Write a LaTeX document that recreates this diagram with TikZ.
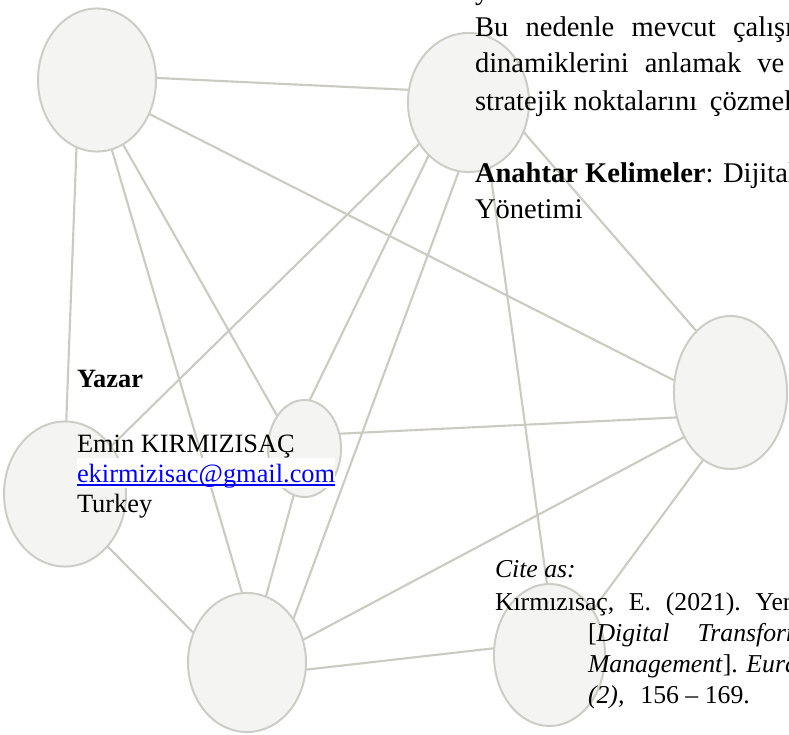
\documentclass[tikz,border=0pt]{standalone}
\usepackage{fontspec}
\setmainfont{Liberation Serif}
\usetikzlibrary{shapes.geometric}
\usetikzlibrary{backgrounds}
\definecolor{bubblefill}{RGB}{244,244,242}
\definecolor{bubbleline}{RGB}{205,205,199}
\definecolor{edgegrey}{RGB}{203,203,196}
\definecolor{linkblue}{RGB}{0,0,255}
\newcommand{\parafont}{\fontsize{21.4}{25}\selectfont}
\newcommand{\authfont}{\fontsize{19.8}{23}\selectfont}
\newcommand{\citefont}{\fontsize{19.3}{22}\selectfont}
\newsavebox{\mailbox}
\newcommand{\mailline}[1]{\sbox{\mailbox}{#1}\rlap{\rule[-2.8pt]{\wd\mailbox}{1.3pt}}\usebox{\mailbox}}

\begin{document}
\begin{tikzpicture}[x=0.75pt,y=0.75pt,yscale=-1,xscale=1,
  bubble/.style={ellipse, draw=bubbleline, fill=bubblefill, line width=1.5pt, inner sep=0pt, outer sep=0pt},
  link/.style={draw=edgegrey, line width=1.6pt},
  txt/.style={anchor=base west, inner sep=0pt, outer sep=0pt}]
\useasboundingbox (0,0) rectangle (789,735);

%Shape: Ellipse
\node [bubble, minimum width=88.5pt, minimum height=107.3pt] (A) at (97,80) {};
%Shape: Ellipse
\node [bubble, minimum width=90.8pt, minimum height=104.3pt] (B) at (468.5,102.5) {};
%Shape: Ellipse
\node [bubble, minimum width=84.8pt, minimum height=114.8pt] (C) at (730.5,392.5) {};
%Shape: Ellipse
\node [bubble, minimum width=91.5pt, minimum height=108.8pt] (D) at (65,494) {};
%Shape: Ellipse
\node [bubble, minimum width=54.8pt, minimum height=72.8pt] (E) at (304.5,448.5) {};
%Shape: Ellipse
\node [bubble, minimum width=88.5pt, minimum height=104.3pt] (F) at (247,662.5) {};
%Shape: Ellipse
\node [bubble, minimum width=83.3pt, minimum height=106.5pt] (G) at (549.5,655) {};

\begin{pgfonlayer}{background}
%Straight Lines
\draw [link] (A.2) -- (B.168) ;
%Straight Lines
\draw [link] (A.253) -- (D.89) ;
%Straight Lines
\draw [link] (A.282) -- (F.94) ;
%Straight Lines
\draw [link] (A.292) -- (E.130) ;
%Straight Lines
\draw [link] (A.327) -- (C.168) ;
%Straight Lines
\draw [link] (B.220) -- (D.46) ;
%Straight Lines
\draw [link] (B.233) -- (E.84) ;
%Straight Lines
\draw [link] (B.262) -- (F.43) ;
%Straight Lines
\draw [link] (B.288) -- (G.92) ;
%Straight Lines
\draw [link] (B.332) -- (C.119) ;
%Straight Lines
\draw [link] (D.309) -- (F.151) ;
%Straight Lines
\draw [link] (E.257) -- (F.74) ;
%Straight Lines
\draw [link] (E.23) -- (C.205) ;
%Straight Lines
\draw [link] (F.22) -- (C.224) ;
%Straight Lines
\draw [link] (F.353) -- (G.173) ;
%Straight Lines
\draw [link] (G.46) -- (C.248) ;
\end{pgfonlayer}

% Text Node
\node [txt, font=\parafont] (para0) at (475,0) {y};
% Text Node
\node [txt, font=\parafont] (para1) at (475,37) {Bu\hspace{13pt}nedenle\hspace{13pt}mevcut\hspace{13pt}çalışm};
% Text Node
\node [txt, font=\parafont] (para2) at (475,73) {dinamiklerini\hspace{12pt}anlamak\hspace{12pt}ve};
% Text Node
\node [txt, font=\parafont] (para3) at (475,110) {stratejik\hspace{5pt}noktalarını\hspace{9.5pt}çözmek};
% Text Node
\node [txt, font=\parafont] (keys) at (475,182) {\textbf{Anahtar Kelimeler}: Dijital};
% Text Node
\node [txt, font=\parafont] (keys2) at (475,218) {Yönetimi};

% Text Node
\node [txt, font=\authfont] (yazar) at (77,387) {\textbf{Yazar}};
% Text Node
\node [txt, font=\authfont] (name) at (77,452) {Emin KIRMIZISAÇ};
% Text Node
\node [txt, font=\authfont, text=linkblue, fill=white, text height=17.8pt, text depth=4.6pt] (mail) at (77,482) {\mailline{ekirmizisac@gmail.com}};
% Text Node
\node [txt, font=\authfont] (country) at (77,512) {Turkey};

% Text Node
\node [txt, font=\citefont] (cite) at (495,577) {\textit{Cite as:}};
% Text Node
\node [txt, font=\citefont] (ref1) at (495,610) {Kırmızısaç,\hspace{11pt}E.\hspace{11pt}(2021).\hspace{11pt}Yeni};
% Text Node
\node [txt, font=\citefont] (ref2) at (588,641) {[\textit{Digital}\hspace{21pt}\textit{Transformation}};
% Text Node
\node [txt, font=\citefont] (ref3) at (588,672) {\textit{Management}]. \textit{Eurasian}};
% Text Node
\node [txt, font=\citefont] (ref4) at (588,703) {\textit{(2),}\hspace{12pt}156 -- 169.};

\end{tikzpicture}
\end{document}
